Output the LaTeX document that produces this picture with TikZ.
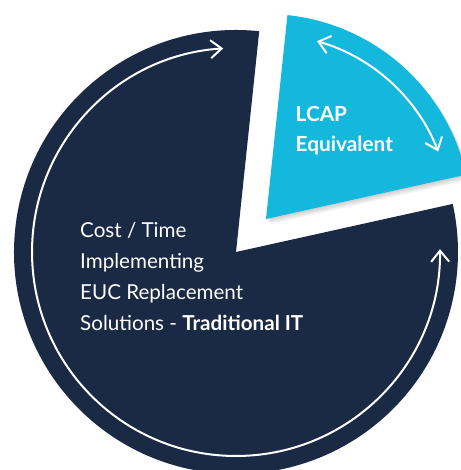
\documentclass[tikz,border=0pt]{standalone}
\usepackage{fontspec}
\setmainfont{Lato}
\usetikzlibrary{arrows.meta}
\definecolor{navy}{HTML}{1A2944}
\definecolor{cyanpie}{HTML}{13B8DC}
\tikzset{
  piearrow/.style={draw=white, line width=2pt, {Straight Barb[length=11pt,width=18pt,line width=2pt]}-{Straight Barb[length=11pt,width=18pt,line width=2pt]}},
  bigtext/.style={text=white, anchor=base west, inner sep=0pt, font=\fontsize{20.6}{24}\selectfont},
  cyantext/.style={text=white, anchor=base west, inner sep=0pt, font=\fontsize{20.8}{24}\selectfont\bfseries},
}
\begin{document}
\begin{tikzpicture}[x=1pt,y=1pt]
\useasboundingbox (0,0) rectangle (460,470);
\fill[white] (0,0) rectangle (460,470);
\coordinate (D) at (236,218);
\coordinate (C) at (266,251);
% dark sector
\fill[navy] (D) -- ++(84:222) arc[start angle=84, end angle=372.5, radius=222] -- cycle;
% soft shadow of cyan sector
\foreach \i in {1,...,6}{
  \fill[black, opacity=0.03] ([shift={(0.7*\i,-0.9*\i)}]C) -- ++(84:205) arc[start angle=84, end angle=12.5, radius=205] -- cycle;
}
% cyan sector
\fill[cyanpie] (C) -- ++(84:205) arc[start angle=84, end angle=12.5, radius=205] -- cycle;
% arrows
\draw[piearrow] ([shift={(0.8:204)}]D) arc[start angle=0.8, end angle=-266.4, radius=204];
\draw[piearrow] ([shift={(74:185)}]C) arc[start angle=74, end angle=21.4, radius=185];
% texts
\node[cyantext] (l1) at (295.5,348) {LCAP};
\node[cyantext] (l2) at (295.5,318) {Equivalent};
\node[bigtext] (t1) at (80,232) {Cost / Time};
\node[bigtext] (t2) at (80,201) {Implementing};
\node[bigtext] (t3) at (80,170) {EUC Replacement};
\node[bigtext] (t4) at (80,139.5) {Solutions - \textbf{Traditional IT}};
\end{tikzpicture}
\end{document}
